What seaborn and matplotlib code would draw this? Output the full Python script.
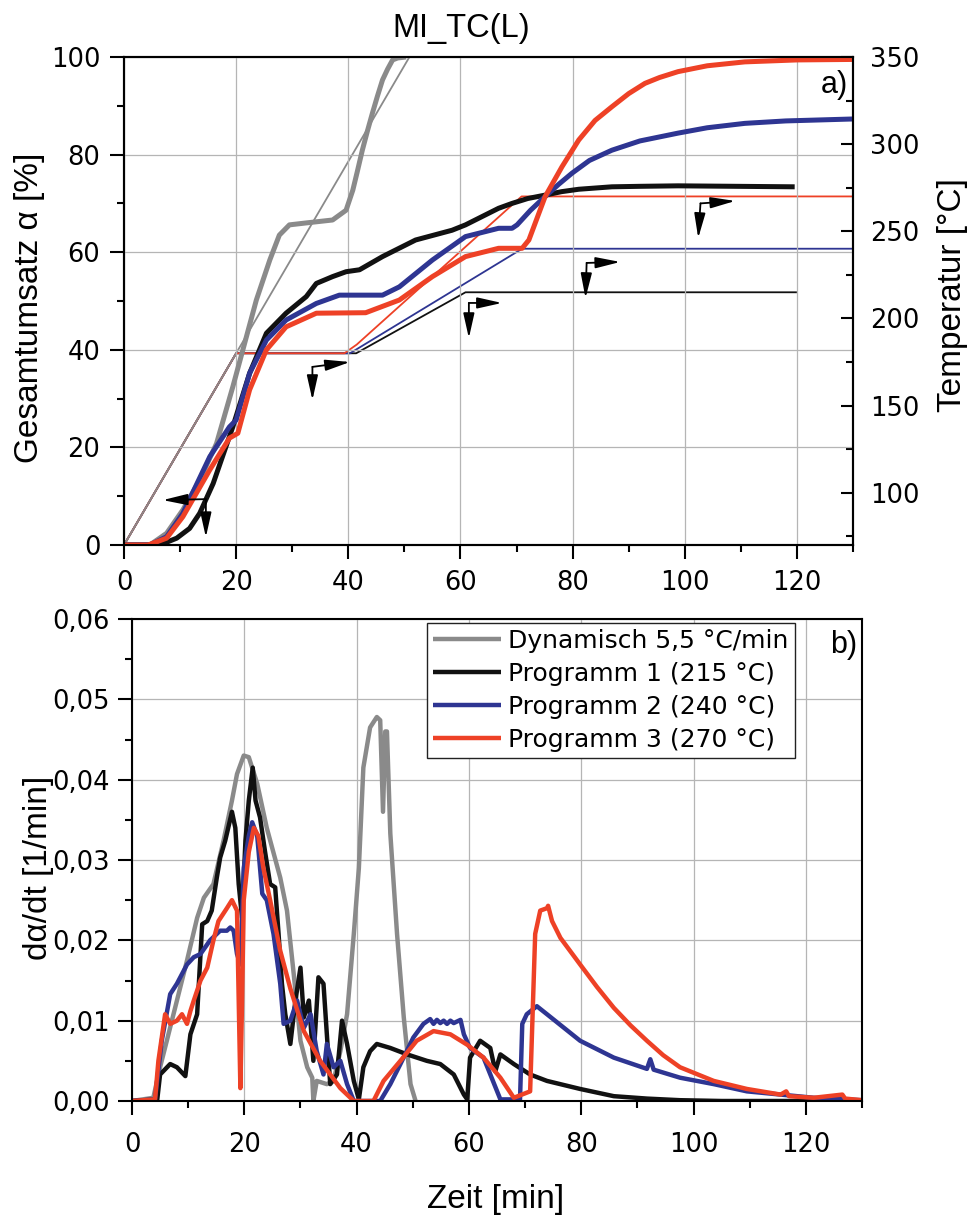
import numpy as np
import pandas as pd
import matplotlib
matplotlib.use("Agg")
import matplotlib.pyplot as plt
from matplotlib.ticker import MultipleLocator, FuncFormatter
import seaborn as sns

# ---------------- data ----------------
# a) Gesamtumsatz alpha [%] vs. Zeit [min]
dyn_t = [0, 4.6, 7.6, 10.5, 13.5, 16.5, 19.4, 21.2, 23.6, 26.0, 27.7, 29.5, 32.5,
         37.2, 39.6, 40.8, 41.6, 42.5, 43.4, 44.3, 45.2, 46.1, 47.0, 47.9, 48.8, 50.3]
dyn_a = [0, 0, 2.4, 7.2, 13.3, 20.8, 32.4, 40.0, 50.2, 58.4, 63.5, 65.6, 66.0,
         66.6, 68.6, 72.7, 76.5, 80.9, 84.8, 88.5, 92.0, 95.3, 97.5, 99.4, 99.8, 100.0]

p1_t = [0, 6.4, 9.4, 11.7, 13.5, 15.9, 19.4, 22.4, 25.4, 28.9, 32.5, 34.3, 37.2,
        39.6, 42.0, 46.1, 52.0, 58.5, 60.9, 66.8, 69.2, 72.0, 75.1, 78.0, 81.1,
        87.0, 92.0, 98.8, 119.6]
p1_a = [0, 0, 1.4, 3.4, 6.5, 12.6, 24.2, 35.2, 43.4, 47.5, 50.9, 53.6, 55.0,
        56.0, 56.4, 59.1, 62.5, 64.5, 65.6, 69.0, 70.0, 71.0, 71.7, 72.4, 72.9,
        73.4, 73.5, 73.6, 73.4]

p2_t = [0, 4.6, 7.6, 10.5, 15.3, 18.8, 20.0, 22.4, 25.4, 28.9, 34.3, 38.4, 46.1,
        49.1, 55.0, 60.9, 66.8, 69.2, 70.1, 72.5, 75.1, 77.5, 79.9, 83.0, 87.0,
        92.0, 98.8, 104.0, 110.7, 118.0, 130.0]
p2_a = [0, 0, 1.7, 6.5, 18.1, 24.2, 25.6, 35.2, 42.0, 46.1, 49.5, 51.2, 51.2,
        52.9, 58.4, 63.2, 64.9, 64.9, 65.6, 68.6, 71.4, 73.9, 76.2, 78.8, 80.9,
        82.8, 84.4, 85.5, 86.4, 86.9, 87.3]

p3_t = [0, 4.3, 7.6, 10.5, 15.3, 18.8, 20.3, 22.4, 25.4, 28.9, 34.3, 43.1, 49.1,
        55.0, 60.9, 66.8, 71.0, 72.2, 73.6, 75.1, 78.1, 81.1, 84.0, 87.0, 90.0,
        92.9, 95.5, 98.8, 104.0, 110.7, 120.0, 130.0]
p3_a = [0, 0, 1.4, 5.8, 15.4, 21.9, 22.9, 31.8, 40.0, 44.7, 47.5, 47.6, 50.2,
        55.0, 59.1, 60.8, 60.8, 62.5, 66.8, 71.4, 77.5, 83.0, 87.0, 89.8, 92.5,
        94.6, 95.8, 97.0, 98.2, 99.0, 99.4, 99.5]

# Temperaturprogramme [°C]
dyn_temp_t = [0, 50.9]
dyn_temp = [70, 350]
p1_temp_t = [0, 20, 41.4, 60.9, 120]
p1_temp = [70, 180, 180, 215, 215]
p2_temp_t = [0, 20, 40.3, 71.0, 130]
p2_temp = [70, 180, 180, 240, 240]
p3_temp_t = [0, 20, 39.3, 41.5, 70.9, 130]
p3_temp = [70, 180, 180, 185, 270, 270]

# b) d alpha / dt [1/min]
dyn_rt = [0, 3.8, 5.0, 6.2, 8.0, 9.8, 11.6, 12.8, 14.5, 16.3, 17.8, 18.7, 19.9, 20.8,
          22.3, 24.0, 26.4, 27.6, 28.8, 30.0, 31.2, 32.1, 32.3, 32.9, 34.7, 35.9,
          37.1, 38.3, 39.5, 40.4, 41.2, 42.4, 43.6, 44.2, 44.7, 45.1, 45.4, 46.0,
          47.2, 48.4, 49.6, 50.5]
dyn_r = [0, 0.0004, 0.0042, 0.0075, 0.0125, 0.0175, 0.0228, 0.0253, 0.0270, 0.0324,
         0.0374, 0.0407, 0.0430, 0.0428, 0.0395, 0.0340, 0.0278, 0.0237, 0.0158,
         0.0075, 0.0042, 0.0029, 0.0, 0.0025, 0.0021, 0.0025, 0.0062, 0.0108, 0.0208,
         0.0290, 0.0415, 0.0465, 0.0478, 0.0474, 0.0360, 0.0460, 0.0460, 0.0333,
         0.0208, 0.0104, 0.0021, 0.0]

p1_rt = [0, 4.5, 5.0, 6.8, 8.0, 9.5, 10.4, 11.6, 12.5, 13.4, 14.2, 15.1, 15.7, 16.6,
         17.8, 18.4, 19.0, 19.6, 20.2, 20.8, 21.5, 22.0, 22.8, 23.7, 24.6, 25.5,
         26.1, 26.7, 27.3, 28.2, 29.1, 30.0, 30.6, 31.5, 32.3, 33.2, 34.1, 34.7,
         35.3, 36.5, 37.4, 38.3, 39.5, 40.4, 41.2, 42.4, 43.6, 46.0, 49.0, 52.5,
         54.9, 57.3, 59.1, 59.7, 60.2, 62.0, 63.8, 64.7, 65.6, 68.0, 70.9, 73.9,
         79.8, 85.8, 91.7, 97.6, 105.0, 130.0]
p1_r = [0, 0.0002, 0.0033, 0.0046, 0.0042, 0.0031, 0.0083, 0.0108, 0.0220, 0.0224,
        0.0237, 0.0278, 0.0303, 0.0324, 0.0360, 0.0340, 0.0270, 0.0228, 0.0324,
        0.0374, 0.0415, 0.0374, 0.0353, 0.0310, 0.0270, 0.0266, 0.0208, 0.0146,
        0.0108, 0.0071, 0.0125, 0.0166, 0.0104, 0.0125, 0.0050, 0.0154, 0.0146,
        0.0083, 0.0021, 0.0033, 0.0100, 0.0071, 0.0025, 0.0002, 0.0042, 0.0062,
        0.0071, 0.0066, 0.0058, 0.0050, 0.0046, 0.0033, 0.0008, 0.0002, 0.0054,
        0.0075, 0.0066, 0.0037, 0.0058, 0.0046, 0.0033, 0.0025, 0.0015, 0.0006,
        0.0003, 0.0001, 0.0, 0.0]

p2_rt = [0, 4.1, 5.3, 6.8, 8.0, 9.8, 11.0, 12.2, 13.9, 15.7, 16.9, 17.5, 18.1, 18.7,
         19.3, 19.9, 20.8, 21.4, 22.3, 23.2, 24.0, 25.2, 26.4, 27.0, 28.2, 29.4,
         30.6, 31.8, 32.9, 34.1, 34.7, 35.9, 37.1, 38.3, 39.5, 44.2, 46.0, 47.8,
         50.1, 51.9, 53.1, 53.7, 54.3, 54.9, 55.5, 56.1, 56.7, 57.3, 57.9, 58.5,
         59.1, 60.2, 62.6, 65.6, 69.1, 69.5, 70.3, 72.1, 73.9, 79.8, 85.8, 91.7,
         92.3, 92.9, 97.6, 103.6, 109.5, 115.5, 121.4, 130.0]
p2_r = [0, 0.0002, 0.0075, 0.0133, 0.0146, 0.0170, 0.0179, 0.0183, 0.0200, 0.0212,
        0.0212, 0.0216, 0.0212, 0.0183, 0.0170, 0.0290, 0.0330, 0.0347, 0.0330,
        0.0258, 0.0250, 0.0208, 0.0146, 0.0096, 0.0100, 0.0125, 0.0091, 0.0108,
        0.0062, 0.0033, 0.0071, 0.0042, 0.0050, 0.0021, 0.0, 0.0, 0.0021, 0.0046,
        0.0079, 0.0096, 0.0102, 0.0096, 0.0101, 0.0097, 0.0100, 0.0096, 0.0100,
        0.0097, 0.0099, 0.0101, 0.0083, 0.0066, 0.0054, 0.0002, 0.0002, 0.0096,
        0.0108, 0.0118, 0.0108, 0.0075, 0.0054, 0.0040, 0.0052, 0.0039, 0.0029,
        0.0021, 0.0012, 0.0008, 0.0004, 0.0001]

p3_rt = [0, 4.1, 4.7, 5.9, 6.8, 8.0, 8.9, 9.8, 10.4, 11.0, 12.2, 13.4, 14.5, 15.4,
         16.9, 17.8, 18.7, 19.3, 19.6, 19.9, 20.8, 21.7, 22.5, 23.4, 24.6, 26.4,
         28.2, 30.6, 33.5, 37.1, 39.5, 43.0, 44.8, 47.8, 50.7, 53.7, 56.7, 59.7,
         62.6, 65.6, 68.0, 70.9, 71.8, 72.7, 73.9, 74.1, 74.8, 76.3, 79.8, 82.8,
         85.8, 88.8, 91.7, 94.6, 97.6, 103.6, 109.5, 115.5, 116.5, 117.0, 121.4,
         126.5, 127.0, 130.0]
p3_r = [0, 0.0002, 0.0050, 0.0108, 0.0096, 0.0100, 0.0108, 0.0096, 0.0112, 0.0125,
        0.0150, 0.0166, 0.0200, 0.0224, 0.0240, 0.0250, 0.0237, 0.0016, 0.0125,
        0.0250, 0.0310, 0.0340, 0.0330, 0.0290, 0.0250, 0.0187, 0.0140, 0.0087,
        0.0050, 0.0016, 0.0, 0.0, 0.0025, 0.0050, 0.0075, 0.0087, 0.0083, 0.0070,
        0.0054, 0.0029, 0.0004, 0.0012, 0.0208, 0.0237, 0.0240, 0.0243, 0.0224,
        0.0203, 0.0170, 0.0142, 0.0116, 0.0094, 0.0075, 0.0057, 0.0042, 0.0025,
        0.0015, 0.0008, 0.0012, 0.0006, 0.0004, 0.0008, 0.0003, 0.0001]

series_labels = ["Dynamisch 5,5 °C/min", "Programm 1 (215 °C)",
                 "Programm 2 (240 °C)", "Programm 3 (270 °C)"]

# ---------------- style ----------------
GRAY = "#8a8a8a"
BLACK = "#111111"
BLUE = "#2e3592"
RED = "#ee4126"
GRID = "#b5b5b5"

sns.set_theme(style="ticks")
plt.rcParams["font.family"] = ["DejaVu Sans"]
plt.rcParams.update({
    "axes.linewidth": 1.5,
    "axes.edgecolor": "black",
    "axes.labelcolor": "black",
    "text.color": "black",
    "xtick.color": "black",
    "ytick.color": "black",
    "xtick.labelsize": 18.5,
    "ytick.labelsize": 18.5,
    "lines.solid_joinstyle": "round",
    "lines.solid_capstyle": "butt",
})
LAB = "Liberation Sans"

W, H = 972, 1217
fig = plt.figure(figsize=(W / 100, H / 100), dpi=100)
fig.patch.set_facecolor("white")


def frac_box(left, top, right, bottom):
    return [left / W, 1 - bottom / H, (right - left) / W, (bottom - top) / H]


ax1 = fig.add_axes(frac_box(124, 57, 853, 545))
ax2 = ax1.twinx()
ax3 = fig.add_axes(frac_box(132, 619, 862, 1101))

# ---------------- a) ----------------
thin = 1.3
for tt, yy, c in [(p1_temp_t, p1_temp, BLACK), (p2_temp_t, p2_temp, BLUE),
                  (p3_temp_t, p3_temp, RED), (dyn_temp_t, dyn_temp, GRAY)]:
    sns.lineplot(x=tt, y=yy, ax=ax2, color=c, linewidth=thin, sort=False,
                 estimator=None, legend=False)

thick = 3.6
for tt, yy, c in [(dyn_t, dyn_a, GRAY), (p1_t, p1_a, BLACK),
                  (p2_t, p2_a, BLUE), (p3_t, p3_a, RED)]:
    sns.lineplot(x=tt, y=yy, ax=ax1, color=c, linewidth=thick, sort=False,
                 estimator=None, legend=False)

ax1.set_zorder(ax2.get_zorder() + 1)
ax1.patch.set_visible(False)

ax1.set_xlim(0, 130)
ax1.set_ylim(0, 100)
ax2.set_ylim(70, 350)
ax1.xaxis.set_major_locator(MultipleLocator(20))
ax1.xaxis.set_minor_locator(MultipleLocator(10))
ax1.yaxis.set_major_locator(MultipleLocator(20))
ax1.yaxis.set_minor_locator(MultipleLocator(10))
ax2.yaxis.set_minor_locator(MultipleLocator(25))
ax2.set_yticks([100, 150, 200, 250, 300, 350])

ax1.tick_params(axis="both", which="major", direction="out", length=10, width=1.5)
ax1.tick_params(axis="both", which="minor", direction="out", length=5, width=1.5)
ax1.tick_params(axis="x", pad=8)
ax1.tick_params(axis="y", pad=7)
ax2.tick_params(axis="y", which="major", direction="in", length=9, width=1.5, pad=12)
ax2.tick_params(axis="y", which="minor", direction="in", length=5, width=1.5)
ax1.set_xlabel("")
ax1.set_ylabel("")
ax2.set_ylabel("")
ax1.grid(True, which="major", color=GRID, linewidth=0.9)
for s in ax1.spines.values():
    s.set_linewidth(1.5)
for s in ax2.spines.values():
    s.set_linewidth(1.5)

# axis-assignment arrows
arrow_style = dict(arrowstyle="-|>,head_length=1.25,head_width=0.28", color="black",
                   lw=1.3, shrinkA=0, shrinkB=0)
arrow_sets = [
    ((14.6, 9.4), [(6.9, 9.2), (14.6, 1.6)]),
    ((33.6, 36.5), [(33.6, 29.7), (40.3, 37.5)]),
    ((61.5, 49.6), [(61.5, 42.4), (67.4, 49.6)]),
    ((82.5, 57.8), [(82.3, 50.6), (88.5, 58.0)]),
    ((102.8, 70.0), [(102.4, 62.9), (109.0, 70.5)]),
]
for corner, tips in arrow_sets:
    for tip in tips:
        ax1.annotate("", xy=tip, xytext=corner, arrowprops=arrow_style, zorder=6)

# ---------------- b) ----------------
lw_b = 3.2
for tt, yy, c, lab in [(dyn_rt, dyn_r, GRAY, series_labels[0]),
                       (p1_rt, p1_r, BLACK, series_labels[1]),
                       (p2_rt, p2_r, BLUE, series_labels[2]),
                       (p3_rt, p3_r, RED, series_labels[3])]:
    sns.lineplot(x=tt, y=yy, ax=ax3, color=c, linewidth=lw_b, sort=False,
                 estimator=None, label=lab)

ax3.set_xlim(0, 130)
ax3.set_ylim(0, 0.06)
ax3.xaxis.set_major_locator(MultipleLocator(20))
ax3.xaxis.set_minor_locator(MultipleLocator(10))
ax3.yaxis.set_major_locator(MultipleLocator(0.01))
ax3.yaxis.set_minor_locator(MultipleLocator(0.005))
ax3.yaxis.set_major_formatter(FuncFormatter(lambda v, p: f"{v:.2f}".replace(".", ",")))
ax3.tick_params(axis="both", which="major", direction="out", length=10, width=1.5)
ax3.tick_params(axis="both", which="minor", direction="out", length=5, width=1.5)
ax3.tick_params(axis="x", pad=12)
ax3.tick_params(axis="y", pad=6)
ax3.set_xlabel("")
ax3.set_ylabel("")
ax3.grid(True, which="major", color=GRID, linewidth=0.9)
for s in ax3.spines.values():
    s.set_linewidth(1.5)

handles, labels = ax3.get_legend_handles_labels()
leg = ax3.legend(handles, labels, loc="upper left", bbox_to_anchor=(0.404, 0.992),
                 borderaxespad=0, frameon=True, fancybox=False, framealpha=1,
                 edgecolor="#222222", fontsize=18, handlelength=2.7,
                 handletextpad=0.3, labelspacing=0.36, borderpad=0.25)
leg.get_frame().set_linewidth(1.0)

# ---------------- texts ----------------
def fx(px):
    return px / W


def fy(py):
    return 1 - py / H


fig.text(fx(461), fy(37), "MI_TC(L)", ha="center", va="baseline",
         fontsize=23.5, family=LAB)
fig.text(fx(30), fy(308), "Gesamtumsatz α [%]", rotation=90, ha="center",
         va="center", fontsize=24, family=LAB)
fig.text(fx(952), fy(295), "Temperatur [°C]", rotation=90, ha="center",
         va="center", fontsize=24, family=LAB)
fig.text(fx(38), fy(868), "dα/dt [1/min]", rotation=90, ha="center",
         va="center", fontsize=24, family=LAB)
fig.text(fx(496), fy(1208), "Zeit [min]", ha="center", va="baseline",
         fontsize=24, family=LAB)
fig.text(fx(848), fy(93), "a)", ha="right", va="baseline", fontsize=22, family=LAB)
fig.text(fx(857), fy(653), "b)", ha="right", va="baseline", fontsize=22, family=LAB)

fig.savefig("out.png", dpi=100, facecolor="white")
